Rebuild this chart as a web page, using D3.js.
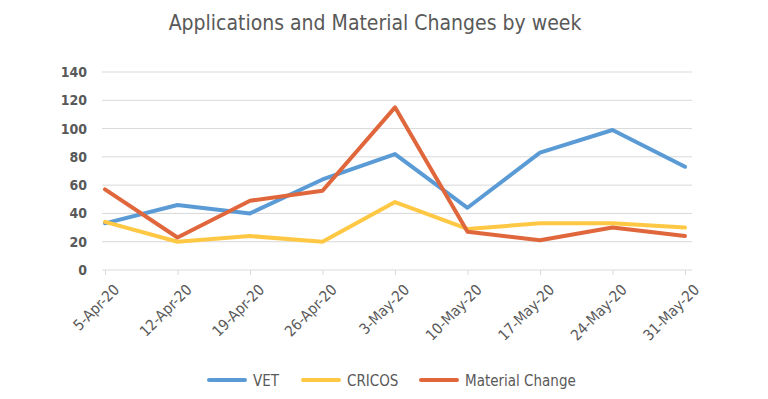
<!DOCTYPE html>
<html>
<head>
<meta charset="utf-8">
<script src="https://d3js.org/d3.v7.min.js"></script>
<style>
  body { margin: 0; background: #fff; }
  text { font-family: "DejaVu Sans Condensed", "Liberation Sans Narrow", sans-serif; }
</style>
</head>
<body>
<div id="chart"></div>
<script>
var weeks = ["5-Apr-20", "12-Apr-20", "19-Apr-20", "26-Apr-20", "3-May-20",
             "10-May-20", "17-May-20", "24-May-20", "31-May-20"];
var vet = [33, 46, 40, 64, 82, 44, 83, 99, 73];
var cricos = [34, 20, 24, 20, 48, 29, 33, 33, 30];
var materialChange = [57, 23, 49, 56, 115, 27, 21, 30, 24];
var yTicks = [0, 20, 40, 60, 80, 100, 120, 140];
var seriesNames = ["VET", "CRICOS", "Material Change"];
var seriesColors = ["#5B9BD5", "#FFC844", "#E0673C"];

var svgWidth = 768;
var svgHeight = 399;

var svg = d3.select("#chart")
  .append("svg")
  .attr("width", svgWidth)
  .attr("height", svgHeight);

var xScale = d3.scalePoint()
  .domain(weeks)
  .range([105, 685]);

var yScale = d3.scaleLinear()
  .domain([0, 140])
  .range([270, 72]);

// gridlines
svg.append("g")
  .selectAll("line")
  .data(yTicks.slice(1))
  .enter()
  .append("line")
  .attr("x1", 102)
  .attr("x2", 692)
  .attr("y1", d => yScale(d))
  .attr("y2", d => yScale(d))
  .attr("stroke", "#d9d9d9")
  .attr("stroke-width", 1);

// y axis labels
var leftAxis = d3.axisLeft(yScale).tickValues(yTicks).tickSize(0).tickPadding(15);
var yAxis = svg.append("g")
  .attr("transform", "translate(102, 0)")
  .call(leftAxis);
yAxis.select(".domain").remove();
yAxis.selectAll("text")
  .attr("fill", "#595959")
  .style("font-size", "14px")
  .style("font-weight", "bold");

// x axis
var bottomAxis = d3.axisBottom(xScale).tickSize(5);
var xAxis = svg.append("g")
  .attr("transform", "translate(0, 270)")
  .call(bottomAxis);
xAxis.select(".domain")
  .attr("d", "M102,0H692")
  .attr("stroke", "#d9d9d9");
xAxis.selectAll(".tick line").attr("stroke", "#d9d9d9");
xAxis.selectAll("text")
  .attr("fill", "#595959")
  .style("font-size", "15px")
  .attr("text-anchor", "end")
  .attr("x", 0)
  .attr("y", 0)
  .attr("dy", "0.35em")
  .attr("transform", "translate(11, 17) rotate(-45)");

// lines
var line = d3.line()
  .x((d, i) => xScale(weeks[i]))
  .y(d => yScale(d));

[vet, cricos, materialChange].forEach(function(values, i) {
  svg.append("path")
    .datum(values)
    .attr("d", line)
    .attr("fill", "none")
    .attr("stroke", seriesColors[i])
    .attr("stroke-width", 4)
    .attr("stroke-linejoin", "round")
    .attr("stroke-linecap", "round");
});

// title
svg.append("text")
  .attr("x", 375)
  .attr("y", 30)
  .attr("text-anchor", "middle")
  .attr("fill", "#595959")
  .style("font-size", "21px")
  .text("Applications and Material Changes by week");

// legend
var legendX = [209, 303, 421];
seriesNames.forEach(function(name, i) {
  svg.append("line")
    .attr("x1", legendX[i])
    .attr("x2", legendX[i] + 36)
    .attr("y1", 380)
    .attr("y2", 380)
    .attr("stroke", seriesColors[i])
    .attr("stroke-width", 4)
    .attr("stroke-linecap", "round");
  svg.append("text")
    .attr("x", legendX[i] + 44)
    .attr("y", 386)
    .attr("fill", "#595959")
    .style("font-size", "15px")
    .text(name);
});
</script>
</body>
</html>
